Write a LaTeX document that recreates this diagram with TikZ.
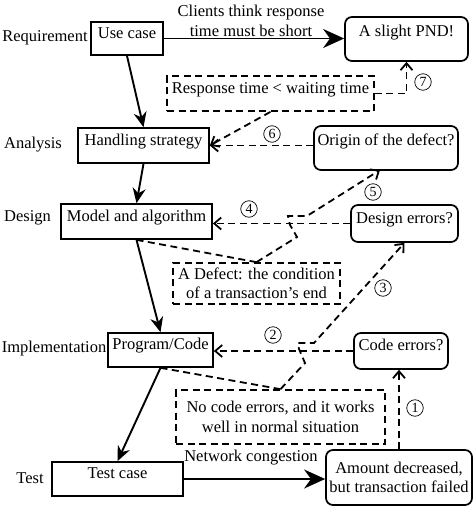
\documentclass[tikz,border=0pt]{standalone}
\usepackage{fontspec}
\setmainfont{Liberation Serif}
\usetikzlibrary{arrows.meta,calc}
\begin{document}
\begin{tikzpicture}[x=1pt,y=-1pt, font=\fontsize{16.5}{19.5}\selectfont,
  box/.style={draw, line width=1.7pt, inner sep=0pt, align=center},
  rbox/.style={box, rounded corners=7pt},
  dbox/.style={box, line width=1.7pt, dash pattern=on 7pt off 4.5pt},
  one/.style={text height=10pt, text depth=11pt},
  onehi/.style={text height=10pt, text depth=16pt},
  flow/.style={line width=1.9pt, -{Stealth[length=15pt,width=13pt]}},
  bigflow/.style={line width=1.9pt, -{Stealth[length=21pt,width=19pt]}},
  back/.style={line width=1.8pt, dash pattern=on 7pt off 4.5pt, -{Straight Barb[length=7pt,width=12pt]}},
  link/.style={line width=1.8pt, dash pattern=on 7pt off 4.5pt},
  num/.style={circle, draw, line width=0.7pt, minimum size=16.5pt, inner sep=0pt, font=\fontsize{14}{14}\selectfont},
  stage/.style={inner sep=0pt}
]
\useasboundingbox (0,0) rectangle (474,506);

% boxes
\node[box, one, minimum width=72pt, minimum height=33pt] (uc) at (127,38.5) {Use case};
\node[rbox, onehi, minimum width=123pt, minimum height=44pt] (pnd) at (406.5,39) {A slight PND!};
\node[box, one, minimum width=131pt, minimum height=35pt] (hs) at (143.5,145.5) {Handling strategy};
\node[rbox, onehi, minimum width=144pt, minimum height=44pt] (orig) at (386,148) {Origin of the defect?};
\node[box, one, minimum width=151pt, minimum height=35pt] (ma) at (136.5,221.5) {Model and algorithm};
\node[rbox, one, minimum width=107pt, minimum height=37pt] (de) at (404.5,223.5) {Design errors?};
\node[box, one, minimum width=105pt, minimum height=34pt] (pc) at (160.5,350) {Program/Code};
\node[rbox, one, minimum width=94pt, minimum height=36pt] (ce) at (401,351) {Code errors?};
\node[box, one, minimum width=131pt, minimum height=34pt] (tc) at (117.5,479) {Test case};
\node[rbox, minimum width=146pt, minimum height=55pt] (amt) at (399,477.5) {Amount decreased,\\but transaction failed};
\node[dbox, one, minimum width=207pt, minimum height=35pt] (resp) at (270.5,93.5) {Response time < waiting time};
\node[dbox, minimum width=167pt, minimum height=41pt] (defect) at (256.5,283.5) {A Defect: the condition\\of a transaction’s end};
\node[dbox, minimum width=209pt, minimum height=54pt] (nocode) at (280.5,417) {No code errors, and it works\\well in normal situation};

% stage labels
\node[stage] (lreq) at (45,38) {Requirement};
\node[stage] (lana) at (33,145) {Analysis};
\node[stage] (ldes) at (27.5,218) {Design};
\node[stage] (limp) at (54,349) {Implementation};
\node[stage] (ltest) at (30,478) {Test};

% edge texts
\node[stage, align=center] (cl) at (251,21) {Clients think response\\time must be short};
\node[stage] (net) at (251,458) {Network congestion};

% circled numbers
\node[num] (n1) at (415,408) {1};
\node[num] (n2) at (273,335) {2};
\node[num] (n3) at (383,288) {3};
\node[num] (n4) at (249,209) {4};
\node[num] (n5) at (373,192) {5};
\node[num] (n6) at (272,134) {6};
\node[num] (n7) at (423,82) {7};

% solid flow
\draw[flow] (uc.south) -- (hs.north);
\draw[flow] (hs.south) -- (ma.north);
\draw[flow] (ma.south) -- (pc.north);
\draw[flow] (pc.south) -- (tc.north);
\draw[bigflow] (uc.east) -- (uc.east -| pnd.west);
\draw[bigflow] (tc.east) -- (tc.east -| amt.west);

% dashed feedback
\draw[back] (amt.north) -- (amt.north |- ce.south);
\draw[back] (ce.west) -- (ce.west -| pc.east);
\draw[back] (de.west) -- (de.west -| ma.east);
\draw[back] (hs.east -| orig.west) -- (hs.east);
\draw[back] (resp.south) -- (hs.east);
\draw[back] (resp.east) -| (pnd.south);

% links to notes
\draw[link] (ma.south) -- (defect.north);
\draw[link] (pc.south) -- (nocode.north);

% hops
\coordinate (h5a) at (297,237);
\coordinate (h5b) at (290,225);
\coordinate (h5c) at (288,216);
\coordinate (h5d) at (307,216);
\coordinate (t5) at (380,170);
\draw[back] (defect.north) -- (h5a) -- (h5b) -- (h5c) -- (h5d) -- (t5);

\coordinate (h3a) at (305,363);
\coordinate (h3b) at (299,349);
\coordinate (h3c) at (298,343);
\coordinate (h3d) at (314,343);
\draw[back] (nocode.north) -- (h3a) -- (h3b) -- (h3c) -- (h3d) -- (de.south);
\end{tikzpicture}
\end{document}
